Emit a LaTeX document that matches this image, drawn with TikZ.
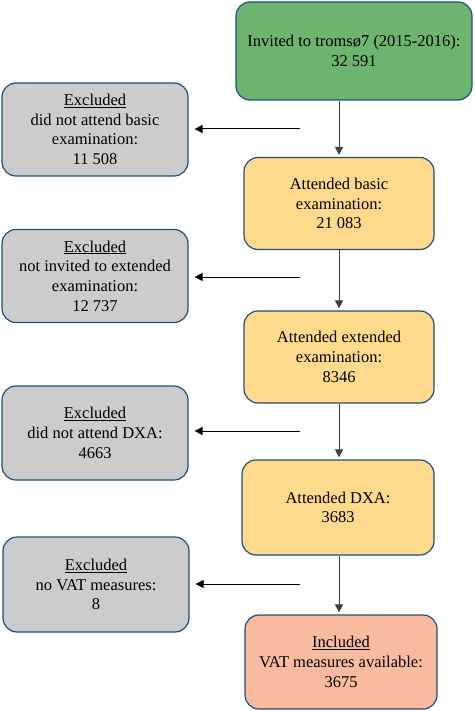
\documentclass[tikz,border=0pt]{standalone}
\usepackage{fontspec}
\setmainfont{Liberation Serif}
\usepackage{xcolor}
\usetikzlibrary{arrows.meta,positioning,calc}

\definecolor{boxline}{HTML}{1F4E79}
\definecolor{startgreen}{HTML}{6DB56F}
\definecolor{stepyellow}{HTML}{FFD98C}
\definecolor{exclgray}{HTML}{CCCCCC}
\definecolor{inclsalmon}{HTML}{F8BBA0}

\begin{document}
\begin{tikzpicture}[
        x=1pt,y=-1pt,
        font=\fontsize{16.5}{19.7}\selectfont,
        >={Triangle[length=8pt,width=8pt]},
        box/.style={rectangle,draw=boxline,line width=1.2pt,rounded corners=14pt,align=center,inner sep=2pt},
        mainbox/.style={box,fill=stepyellow,minimum width=190pt,minimum height=92pt},
        exclbox/.style={box,fill=exclgray,minimum width=186pt,minimum height=93pt},
        downarrow/.style={->,line width=1pt,draw=black!75,shorten >=2pt},
        exclarrow/.style={->,line width=1pt,shorten >=6pt}
    ]
        \useasboundingbox (0,0) rectangle (474,711);
        % main column
        \node[box,fill=startgreen,minimum width=236pt,minimum height=98pt] (invited) at (354,51) {Invited to troms\o7 (2015-2016):\\32 591};
        \node[mainbox] (basic) at (339,203.5) {Attended basic\\examination:\\21 083};
        \node[mainbox] (extended) at (339,357) {Attended extended\\examination:\\8346};
        \node[mainbox,minimum width=192pt,minimum height=95pt] (dxa) at (338,507.5) {Attended DXA:\\3683};
        \node[box,fill=inclsalmon,minimum width=192pt,minimum height=94pt] (included) at (341,662) {\underline{Included}\\VAT measures available:\\3675};
        % excluded column
        \node[exclbox] (exbasic) at (95,129.5) {\underline{Excluded}\\did not attend basic\\examination:\\11 508};
        \node[exclbox] (exext) at (95,276) {\underline{Excluded}\\not invited to extended\\examination:\\12 737};
        \node[exclbox,minimum height=94pt] (exdxa) at (95,433) {\underline{Excluded}\\did not attend DXA:\\4663};
        \node[exclbox,minimum height=95pt] (exvat) at (96,584.5) {\underline{Excluded}\\no VAT measures:\\8};

        \coordinate (c1) at (300,129);
        \coordinate (c2) at (300,277);
        \coordinate (c3) at (300,431);
        \coordinate (c4) at (300,584);

        \draw[downarrow] (invited.south -| basic) -- (basic);
        \draw[downarrow] (basic) -- (extended);
        \draw[downarrow] (extended.south -| basic) -- (basic |- dxa.north);
        \draw[downarrow] (dxa.south -| basic) -- (basic |- included.north);

        \draw[exclarrow] (c1) -- (c1 -| exbasic.east);
        \draw[exclarrow] (c2) -- (c2 -| exext.east);
        \draw[exclarrow] (c3) -- (c3 -| exdxa.east);
        \draw[exclarrow] (c4) -- (c4 -| exvat.east);
    \end{tikzpicture}
\end{document}
